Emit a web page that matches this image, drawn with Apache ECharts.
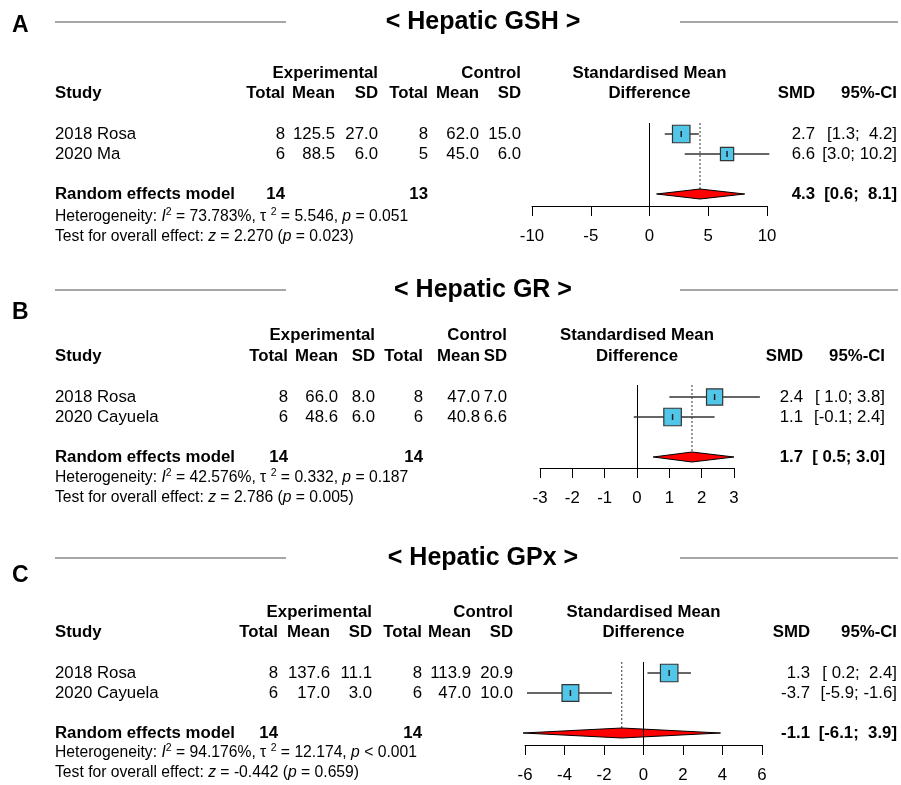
<!DOCTYPE html>
<html><head><meta charset="utf-8">
<script src="https://cdn.jsdelivr.net/npm/echarts@6/dist/echarts.min.js"></script>
<style>html,body{margin:0;padding:0;background:#fff}#c{width:901px;height:785px}</style>
</head><body><div id="c"></div>
<script>
// ---------------- DATA ----------------
const panelLetters = ['A', 'B', 'C'];
const panelTitles = ['< Hepatic GSH >', '< Hepatic GR >', '< Hepatic GPx >'];

// Panel A : Hepatic GSH
const studiesA = ['2018 Rosa', '2020 Ma'];
const expTotalA = [8, 6];
const expMeanA = [125.5, 88.5];
const expSDA = [27.0, 6.0];
const ctlTotalA = [8, 5];
const ctlMeanA = [62.0, 45.0];
const ctlSDA = [15.0, 6.0];
const smdA = [2.7, 6.6];
const ciLowA = [1.3, 3.0];
const ciHighA = [4.2, 10.2];
const weightA = [57, 43];
const pooledA = [4.3, 0.6, 8.1];      // SMD, lower, upper
const pooledNA = [14, 13];            // exp total, ctl total
const hetA = ['73.783', '5.546', '= 0.051'];   // I2 %, tau2, p
const testA = ['2.270', '= 0.023'];            // z, p
const ticksA = [-10, -5, 0, 5, 10];

// Panel B : Hepatic GR
const studiesB = ['2018 Rosa', '2020 Cayuela'];
const expTotalB = [8, 6];
const expMeanB = [66.0, 48.6];
const expSDB = [8.0, 6.0];
const ctlTotalB = [8, 6];
const ctlMeanB = [47.0, 40.8];
const ctlSDB = [7.0, 6.6];
const smdB = [2.4, 1.1];
const ciLowB = [1.0, -0.1];
const ciHighB = [3.8, 2.4];
const weightB = [48, 52];
const pooledB = [1.7, 0.5, 3.0];
const pooledNB = [14, 14];
const hetB = ['42.576', '0.332', '= 0.187'];
const testB = ['2.786', '= 0.005'];
const ticksB = [-3, -2, -1, 0, 1, 2, 3];

// Panel C : Hepatic GPx
const studiesC = ['2018 Rosa', '2020 Cayuela'];
const expTotalC = [8, 6];
const expMeanC = [137.6, 17.0];
const expSDC = [11.1, 3.0];
const ctlTotalC = [8, 6];
const ctlMeanC = [113.9, 47.0];
const ctlSDC = [20.9, 10.0];
const smdC = [1.3, -3.7];
const ciLowC = [0.2, -5.9];
const ciHighC = [2.4, -1.6];
const weightC = [51, 49];
const pooledC = [-1.1, -6.1, 3.9];
const pooledNC = [14, 14];
const hetC = ['94.176', '12.174', '< 0.001'];
const testC = ['-0.442', '= 0.659'];
const ticksC = [-6, -4, -2, 0, 2, 4, 6];

// ---------------- BUILD ----------------
const panels = [
  {studies: studiesA, eT: expTotalA, eM: expMeanA, eS: expSDA, cT: ctlTotalA, cM: ctlMeanA, cS: ctlSDA,
   smd: smdA, lo: ciLowA, hi: ciHighA, w: weightA, pooled: pooledA, pn: pooledNA, het: hetA, test: testA, ticks: ticksA},
  {studies: studiesB, eT: expTotalB, eM: expMeanB, eS: expSDB, cT: ctlTotalB, cM: ctlMeanB, cS: ctlSDB,
   smd: smdB, lo: ciLowB, hi: ciHighB, w: weightB, pooled: pooledB, pn: pooledNB, het: hetB, test: testB, ticks: ticksB},
  {studies: studiesC, eT: expTotalC, eM: expMeanC, eS: expSDC, cT: ctlTotalC, cM: ctlMeanC, cS: ctlSDC,
   smd: smdC, lo: ciLowC, hi: ciHighC, w: weightC, pooled: pooledC, pn: pooledNC, het: hetC, test: testC, ticks: ticksC}
];

// layout (pixels)
const LAY = [
  {letterY: 26, ruleY: 22, grpY: 73, hdrY: 93, rowY: [134, 154], poolY: 194, hetY: 217, testY: 237,
   cols: [285, 335, 378, 428, 479, 521], smdR: 815, ciR: 897,
   grid: {left: 532, width: 235, top: 123, height: 83}, yMin: -0.55, yMax: 3.6},
  {letterY: 313, ruleY: 290, grpY: 335, hdrY: 356, rowY: [397, 417], poolY: 457, hetY: 478, testY: 498,
   cols: [288, 338, 375, 423, 480, 507], smdR: 803, ciR: 885,
   grid: {left: 540, width: 194, top: 385, height: 83}, yMin: -0.6, yMax: 3.55},
  {letterY: 576, ruleY: 558, grpY: 612, hdrY: 632, rowY: [673, 693], poolY: 733, hetY: 753, testY: 773,
   cols: [278, 330, 372, 422, 471, 513], smdR: 810, ciR: 897,
   grid: {left: 525, width: 237, top: 662, height: 83}, yMin: -0.55, yMax: 3.6}
];

const FONT = '"Liberation Sans", Arial, Helvetica, sans-serif';
const FS = 16.8;
const SFS = 15.7;
const BOX = 17.5;
const TITLE_CX = 483;

function txt(x, y, text, o) {
  o = o || {};
  const al = o.align || 'left';
  const st = {
    text: text, fill: '#000', fontSize: o.size || FS, fontWeight: o.bold ? 'bold' : 'normal',
    fontFamily: FONT, align: al, textAlign: al, verticalAlign: 'middle', textVerticalAlign: 'middle'
  };
  if (o.rich) st.rich = o.rich;
  return {type: 'text', x: x, y: y, silent: true, z: 10, style: st};
}
function fmt1(v) { return v.toFixed(1); }
function padTo(s, n) { while (s.length < n) s = ' ' + s; return s; }

const richSmall = {
  n: {fontSize: SFS, fontFamily: FONT, fill: '#000', color: '#000'},
  i: {fontSize: SFS, fontFamily: FONT, fontStyle: 'italic', fill: '#000', color: '#000'},
  s: {fontSize: 10.5, fontFamily: FONT, fill: '#000', color: '#000', padding: [0, 0, 9, 0]}
};

const grids = [], xAxes = [], yAxes = [], series = [], graphics = [];

panels.forEach(function (p, i) {
  const l = LAY[i];
  // letter, title, rules
  graphics.push(txt(12, l.letterY, panelLetters[i], {bold: true, size: 23}));
  graphics.push(txt(TITLE_CX, l.ruleY, panelTitles[i], {bold: true, size: 25, align: 'center'}));
  graphics.push({type: 'line', silent: true, shape: {x1: 55, y1: l.ruleY, x2: 286, y2: l.ruleY}, style: {stroke: '#8a8a8a', lineWidth: 1.5}});
  graphics.push({type: 'line', silent: true, shape: {x1: 680, y1: l.ruleY, x2: 898, y2: l.ruleY}, style: {stroke: '#8a8a8a', lineWidth: 1.5}});

  // headers
  const midX = l.grid.left + l.grid.width / 2;
  graphics.push(txt(l.cols[2], l.grpY, 'Experimental', {bold: true, align: 'right'}));
  graphics.push(txt(l.cols[5], l.grpY, 'Control', {bold: true, align: 'right'}));
  graphics.push(txt(midX, l.grpY, 'Standardised Mean', {bold: true, align: 'center'}));
  graphics.push(txt(55, l.hdrY, 'Study', {bold: true}));
  ['Total', 'Mean', 'SD', 'Total', 'Mean', 'SD'].forEach(function (h, k) {
    graphics.push(txt(l.cols[k], l.hdrY, h, {bold: true, align: 'right'}));
  });
  graphics.push(txt(midX, l.hdrY, 'Difference', {bold: true, align: 'center'}));
  graphics.push(txt(l.smdR, l.hdrY, 'SMD', {bold: true, align: 'right'}));
  graphics.push(txt(l.ciR, l.hdrY, '95%-CI', {bold: true, align: 'right'}));

  // CI string widths
  const loAll = p.lo.concat([p.pooled[1]]).map(fmt1);
  const hiAll = p.hi.concat([p.pooled[2]]).map(fmt1);
  const wl = Math.max.apply(null, loAll.map(s => s.length));
  const wh = Math.max.apply(null, hiAll.map(s => s.length));
  function ciStr(k) { return '[' + padTo(loAll[k], wl) + '; ' + padTo(hiAll[k], wh) + ']'; }

  // rows
  p.studies.forEach(function (s, k) {
    const y = l.rowY[k];
    graphics.push(txt(55, y, s));
    const vals = [String(p.eT[k]), fmt1(p.eM[k]), fmt1(p.eS[k]), String(p.cT[k]), fmt1(p.cM[k]), fmt1(p.cS[k])];
    vals.forEach(function (v, c) { graphics.push(txt(l.cols[c], y, v, {align: 'right'})); });
    graphics.push(txt(l.smdR, y, fmt1(p.smd[k]), {align: 'right'}));
    graphics.push(txt(l.ciR, y, ciStr(k), {align: 'right'}));
  });
  // pooled row
  graphics.push(txt(55, l.poolY, 'Random effects model', {bold: true}));
  graphics.push(txt(l.cols[0], l.poolY, String(p.pn[0]), {bold: true, align: 'right'}));
  graphics.push(txt(l.cols[3], l.poolY, String(p.pn[1]), {bold: true, align: 'right'}));
  graphics.push(txt(l.smdR, l.poolY, fmt1(p.pooled[0]), {bold: true, align: 'right'}));
  graphics.push(txt(l.ciR, l.poolY, ciStr(p.studies.length), {bold: true, align: 'right'}));

  // heterogeneity and test
  graphics.push(txt(55, l.hetY,
    '{n|Heterogeneity: }{i|I}{s|2}{n| = ' + p.het[0] + '%, \u03c4 }{s|2}{n| = ' + p.het[1] + ', }{i|p}{n| ' + p.het[2] + '}',
    {size: SFS, rich: richSmall}));
  graphics.push(txt(55, l.testY,
    '{n|Test for overall effect: }{i|z}{n| = ' + p.test[0] + ' (}{i|p}{n| ' + p.test[1] + ')}',
    {size: SFS, rich: richSmall}));

  // forest grid
  grids.push({left: l.grid.left, top: l.grid.top, width: l.grid.width, height: l.grid.height});
  xAxes.push({
    type: 'value', gridIndex: i, position: 'bottom',
    min: p.ticks[0], max: p.ticks[p.ticks.length - 1], interval: p.ticks[1] - p.ticks[0],
    axisLine: {show: true, onZero: false, lineStyle: {color: '#000', width: 1}},
    axisTick: {show: true, length: 10, lineStyle: {color: '#000', width: 1}},
    axisLabel: {margin: 22, fontSize: FS, color: '#000', fontFamily: FONT},
    splitLine: {show: false}
  });
  yAxes.push({type: 'value', gridIndex: i, min: l.yMin, max: l.yMax, inverse: true, show: false});

  const wmax = Math.max.apply(null, p.w);

  // pooled diamond + dotted reference line
  series.push({
    type: 'custom', xAxisIndex: i, yAxisIndex: i, z: 3, silent: true,
    data: [[p.pooled[0], p.studies.length + 1, p.pooled[1], p.pooled[2]]],
    renderItem: function (params, api) {
      const c = api.coord([api.value(0), api.value(1)]);
      const lo = api.coord([api.value(2), api.value(1)]);
      const hi = api.coord([api.value(3), api.value(1)]);
      const h = 5;
      const top = params.coordSys.y;
      return {type: 'group', children: [
        {type: 'line', shape: {x1: c[0], y1: top, x2: c[0], y2: c[1] - h}, style: {stroke: '#333', lineWidth: 1, lineDash: [2, 2]}},
        {type: 'polygon', shape: {points: [[lo[0], c[1]], [c[0], c[1] - h], [hi[0], c[1]], [c[0], c[1] + h]]},
         style: {fill: '#ff0000', stroke: '#000', lineWidth: 1}}
      ]};
    }
  });

  // studies: CI lines, squares
  series.push({
    type: 'custom', xAxisIndex: i, yAxisIndex: i, z: 5, silent: true,
    data: p.smd.map(function (v, k) { return [v, k, p.lo[k], p.hi[k], p.w[k]]; }),
    renderItem: function (params, api) {
      const c = api.coord([api.value(0), api.value(1)]);
      const lo = api.coord([api.value(2), api.value(1)]);
      const hi = api.coord([api.value(3), api.value(1)]);
      const s = BOX * api.value(4) / wmax;
      return {type: 'group', children: [
        {type: 'line', shape: {x1: lo[0], y1: c[1], x2: hi[0], y2: c[1]}, style: {stroke: '#333', lineWidth: 1.6}},
        {type: 'rect', shape: {x: c[0] - s / 2, y: c[1] - s / 2, width: s, height: s}, style: {fill: '#52c6e8', stroke: '#333', lineWidth: 1.2}},
        {type: 'line', shape: {x1: c[0], y1: c[1] - 3, x2: c[0], y2: c[1] + 3}, style: {stroke: '#222', lineWidth: 1.5}}
      ]};
    }
  });

  // zero line
  series.push({
    type: 'line', xAxisIndex: i, yAxisIndex: i, z: 6, silent: true, data: [],
    markLine: {silent: true, symbol: ['none', 'none'], label: {show: false}, animation: false,
      lineStyle: {color: '#000', width: 1, type: 'solid'}, data: [{xAxis: 0}]}
  });
});

const chart = echarts.init(document.getElementById('c'), null, {renderer: 'canvas'});
chart.setOption({
  animation: false,
  backgroundColor: '#fff',
  grid: grids, xAxis: xAxes, yAxis: yAxes, series: series, graphic: graphics
});
</script></body></html>
